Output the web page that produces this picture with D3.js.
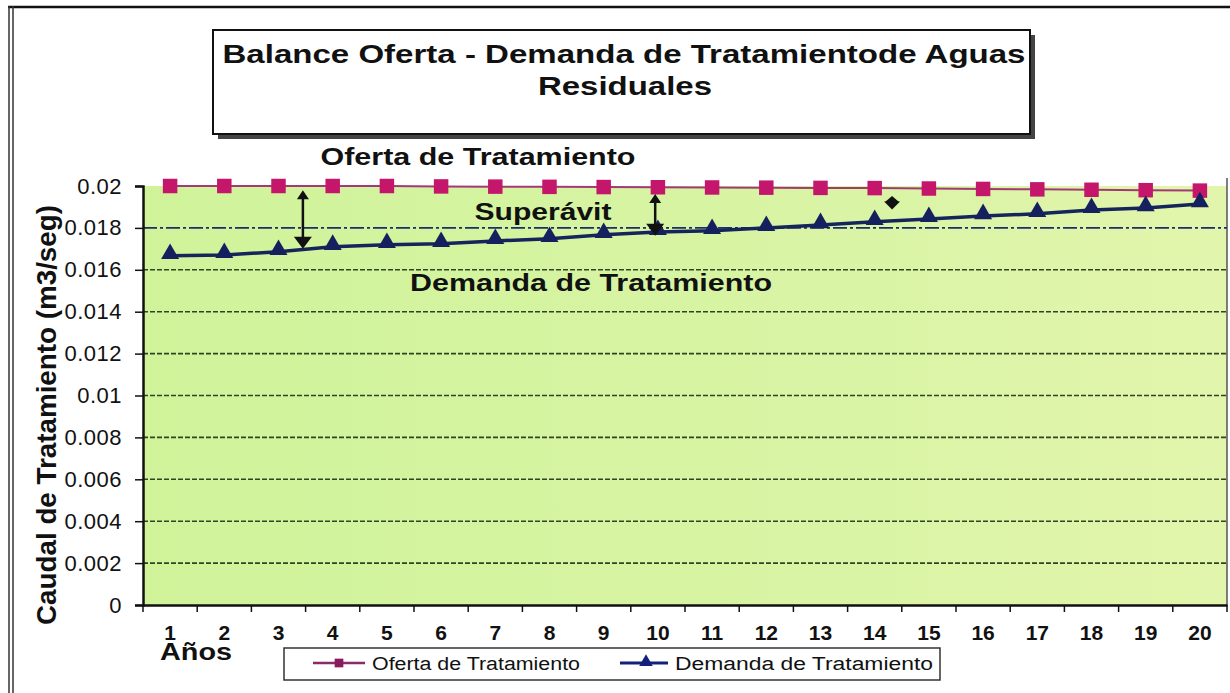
<!DOCTYPE html>
<html>
<head>
<meta charset="utf-8">
<script src="https://cdn.jsdelivr.net/npm/d3@7"></script>
<style>
  body { margin: 0; background: #fff; }
  svg { display: block; font-family: "Liberation Sans", Arial, sans-serif; }
</style>
</head>
<body>
<div id="chart"></div>
<script>
// data
var years = ["1","2","3","4","5","6","7","8","9","10","11","12","13","14","15","16","17","18","19","20"];
var oferta = [0.0200, 0.0200, 0.0200, 0.0200, 0.0200, 0.01998, 0.01997, 0.01996, 0.01995, 0.01994,
              0.01993, 0.01992, 0.01991, 0.0199, 0.01988, 0.01986, 0.01984, 0.01982, 0.0198, 0.01978];
var demanda = [0.01667, 0.01671, 0.01686, 0.0171, 0.01719, 0.01724, 0.01738, 0.01748, 0.01767, 0.01781,
               0.01786, 0.018, 0.01814, 0.01829, 0.01843, 0.01857, 0.01867, 0.01886, 0.01895, 0.01914];
var yTicks = [0, 0.002, 0.004, 0.006, 0.008, 0.01, 0.012, 0.014, 0.016, 0.018, 0.02];
var yTickLabels = ["0", "0.002", "0.004", "0.006", "0.008", "0.01", "0.012", "0.014", "0.016", "0.018", "0.02"];
// superavit arrows: position in years, top and bottom value
var arrowAt = [3.45, 9.95, 14.32];
var arrowTop = [0.0198, 0.01962, 0.01952];
var arrowBottom = [0.0170, 0.01762, 0.01888];

var width = 1230, height = 693;
var margin = {top: 186, right: 3, bottom: 88, left: 143};
var innerWidth = width - margin.left - margin.right,
    innerHeight = height - margin.top - margin.bottom;

var svg = d3.select("#chart").append("svg")
  .attr("width", width)
  .attr("height", height);

// outer frame
svg.append("line").attr("x1", 8).attr("x2", width).attr("y1", 7).attr("y2", 7)
  .style("stroke", "#111").style("stroke-width", 2.5);
svg.append("line").attr("x1", 9).attr("x2", 9).attr("y1", 6).attr("y2", height)
  .style("stroke", "#333").style("stroke-width", 1.5);
svg.append("line").attr("x1", 13).attr("x2", 13).attr("y1", 6).attr("y2", height)
  .style("stroke", "#333").style("stroke-width", 1.5);

var defs = svg.append("defs");
var grad = defs.append("linearGradient").attr("id", "bg")
  .attr("x1", "0%").attr("x2", "100%").attr("y1", "0%").attr("y2", "0%");
grad.append("stop").attr("offset", "0%").attr("stop-color", "#d0f39a");
grad.append("stop").attr("offset", "60%").attr("stop-color", "#d8f4a4");
grad.append("stop").attr("offset", "100%").attr("stop-color", "#e2f5ac");

var g = svg.append("g")
  .attr("transform", "translate(" + margin.left + "," + margin.top + ")");

var xScale = d3.scaleBand()
  .domain(years)
  .range([0, innerWidth])
  .paddingInner(0)
  .paddingOuter(0);
var xPos = d3.scaleLinear()
  .domain([0.5, years.length + 0.5])
  .range([0, innerWidth]);
var yScale = d3.scaleLinear()
  .domain([0, 0.02])
  .range([innerHeight, 0]);

g.append("rect")
  .attr("width", innerWidth)
  .attr("height", innerHeight)
  .style("fill", "url(#bg)");

// right border of plot
g.append("line").attr("x1", innerWidth).attr("x2", innerWidth)
  .attr("y1", -8).attr("y2", innerHeight)
  .style("stroke", "#555").style("stroke-width", 1.5);

// gridlines
g.append("g").selectAll("line")
  .data(yTicks.filter(d => d > 0 && d < 0.02))
  .enter().append("line")
  .attr("x1", 0).attr("x2", innerWidth)
  .attr("y1", d => yScale(d)).attr("y2", d => yScale(d))
  .style("stroke", d => d == 0.018 ? "#1c2c6c" : "#2f4420")
  .style("stroke-width", 1.6)
  .style("stroke-dasharray", d => d == 0.018 ? "14,3,3,3" : "5,2");

// y axis
var yAxis = d3.axisLeft(yScale)
  .tickValues(yTicks)
  .tickFormat((d, i) => yTickLabels[i])
  .tickSize(8)
  .tickPadding(13);
var yg = g.append("g").attr("class", "axis").call(yAxis)
  .attr("font-size", 22).attr("font-family", "Liberation Sans, Arial, sans-serif");
yg.select(".domain").style("stroke", "#111").style("stroke-width", 2.5);
yg.selectAll(".tick line").style("stroke", "#111").style("stroke-width", 1.5);
yg.selectAll("text").style("fill", "#111").style("letter-spacing", "0.5px");

// x axis
var xAxis = d3.axisBottom(xScale).tickSize(0).tickPadding(20);
var xg = g.append("g").attr("class", "axis")
  .attr("transform", "translate(0," + innerHeight + ")")
  .call(xAxis)
  .attr("font-size", 21).attr("font-family", "Liberation Sans, Arial, sans-serif");
xg.select(".domain").style("stroke", "#111").style("stroke-width", 2.5);
xg.selectAll("text").style("fill", "#111").style("font-weight", "bold");
xg.append("g").selectAll("line")
  .data(d3.range(years.length + 1))
  .enter().append("line")
  .attr("x1", d => d * xScale.bandwidth()).attr("x2", d => d * xScale.bandwidth())
  .attr("y1", 0).attr("y2", 7)
  .style("stroke", "#111").style("stroke-width", 1.5);

// lines
var seriesLine = d3.line()
  .x((d, i) => xScale(years[i]) + xScale.bandwidth() / 2)
  .y(d => yScale(d));

g.append("path").datum(oferta)
  .attr("d", seriesLine)
  .style("fill", "none").style("stroke", "#a23a78").style("stroke-width", 2);
g.append("path").datum(demanda)
  .attr("d", seriesLine)
  .style("fill", "none").style("stroke", "#16245c").style("stroke-width", 3.5);

var square = d3.symbol().type(d3.symbolSquare).size(210);
var triangle = d3.symbol().type(d3.symbolTriangle).size(140);

g.append("g").selectAll("path")
  .data(oferta)
  .enter().append("path")
  .attr("d", square)
  .attr("transform", (d, i) => "translate(" + (xScale(years[i]) + xScale.bandwidth() / 2) + "," + yScale(d) + ")")
  .style("fill", "#c4176c");

g.append("g").selectAll("path")
  .data(demanda)
  .enter().append("path")
  .attr("d", triangle)
  .attr("transform", (d, i) => "translate(" + (xScale(years[i]) + xScale.bandwidth() / 2) + "," + (yScale(d) - 2) + ")")
  .style("fill", "#15205e");

// superavit arrows
arrowAt.forEach(function(a, i) {
  var x = xPos(a), y1 = yScale(arrowTop[i]), y2 = yScale(arrowBottom[i]);
  var short = (y2 - y1) < 25;
  var h1 = short ? 6 : 9, w1 = short ? 7 : 6, h2 = short ? 8 : 12, w2 = short ? 8 : 9;
  if (!short) {
    g.append("line").attr("x1", x).attr("x2", x).attr("y1", y1 + 6).attr("y2", y2 - 8)
      .style("stroke", "#111").style("stroke-width", 2.5);
  }
  g.append("path").attr("d", "M" + x + "," + y1 + "L" + (x - w1) + "," + (y1 + h1) + "L" + (x + w1) + "," + (y1 + h1) + "Z")
    .style("fill", "#111");
  g.append("path").attr("d", "M" + x + "," + y2 + "L" + (x - w2) + "," + (y2 - h2) + "L" + (x + w2) + "," + (y2 - h2) + "Z")
    .style("fill", "#111");
});

function label(txt, x, y, size, len, weight) {
  return svg.append("text")
    .attr("x", x).attr("y", y)
    .attr("text-anchor", "middle")
    .attr("textLength", len)
    .attr("lengthAdjust", "spacingAndGlyphs")
    .style("font-size", size + "px")
    .style("font-weight", weight || "bold")
    .style("fill", "#111")
    .text(txt);
}

// title box
svg.append("rect").attr("x", 218).attr("y", 35).attr("width", 817).attr("height", 104)
  .style("fill", "#444");
svg.append("rect").attr("x", 213).attr("y", 30).attr("width", 817).attr("height", 104)
  .style("fill", "#fff").style("stroke", "#111").style("stroke-width", 2);
label("Balance Oferta - Demanda de Tratamientode Aguas", 624, 63, 26, 803);
label("Residuales", 625, 95, 26, 174);

label("Oferta de Tratamiento", 478, 165, 23, 315);
label("Superávit", 543, 220, 23, 137);
label("Demanda de Tratamiento", 591, 291, 23, 362);

// axis titles
svg.append("text")
  .attr("transform", "translate(56,415) rotate(-90)")
  .attr("text-anchor", "middle")
  .attr("textLength", 420)
  .attr("lengthAdjust", "spacingAndGlyphs")
  .style("font-size", "27px").style("font-weight", "bold").style("fill", "#111")
  .text("Caudal de Tratamiento (m3/seg)");
label("Años", 196, 660, 23, 72);

// legend
svg.append("rect").attr("x", 284).attr("y", 648).attr("width", 656).attr("height", 32)
  .style("fill", "#fff").style("stroke", "#333").style("stroke-width", 1.5);
var legend = svg.append("g");
legend.append("line").attr("x1", 313).attr("x2", 365).attr("y1", 663).attr("y2", 663)
  .style("stroke", "#8a2a6a").style("stroke-width", 2.5);
legend.append("path").attr("d", square).style("fill", "#8a1a5e")
  .attr("transform", "translate(339,663) scale(0.6)");
legend.append("text").attr("x", 372).attr("y", 670)
  .attr("textLength", 208).attr("lengthAdjust", "spacingAndGlyphs")
  .style("font-size", "18px").style("fill", "#111").text("Oferta de Tratamiento");
legend.append("line").attr("x1", 620).attr("x2", 668).attr("y1", 663).attr("y2", 663)
  .style("stroke", "#15207e").style("stroke-width", 3);
legend.append("path").attr("d", triangle).attr("transform", "translate(646,662) scale(0.75)").style("fill", "#15207e");
legend.append("text").attr("x", 675).attr("y", 670)
  .attr("textLength", 258).attr("lengthAdjust", "spacingAndGlyphs")
  .style("font-size", "18px").style("fill", "#111").text("Demanda de Tratamiento");
</script>
</body>
</html>
